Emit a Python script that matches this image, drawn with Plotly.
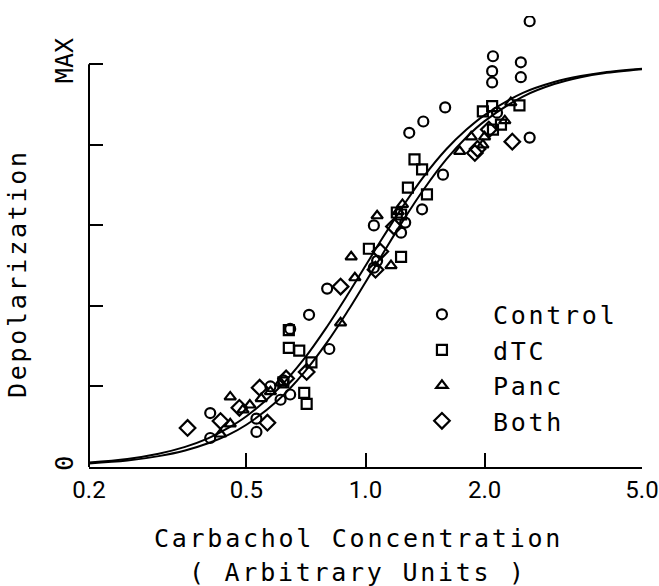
import plotly.graph_objects as go

# ---- data ----
control_x = [0.405, 0.405, 0.53, 0.53, 0.575, 0.61, 0.645, 0.62, 0.645, 0.72, 0.81, 0.80,
             1.05, 1.07, 1.05, 1.26, 1.23, 1.39, 1.29, 1.40, 1.59, 1.57, 2.10, 2.09, 2.09,
             2.47, 2.47, 2.60, 2.60, 2.15]
control_y = [0.072, 0.134, 0.12, 0.087, 0.20, 0.167, 0.18, 0.215, 0.343, 0.378, 0.293, 0.443,
             0.495, 0.512, 0.60, 0.607, 0.582, 0.64, 0.83, 0.858, 0.893, 0.726, 1.02, 0.983, 0.955,
             1.005, 0.968, 1.107, 0.818, 0.88]

dtc_x = [0.64, 0.64, 0.68, 0.73, 0.70, 0.71, 0.62, 1.02, 1.23, 1.23, 1.33, 1.39, 1.28,
         1.43, 1.20, 2.45, 1.98, 2.09, 2.20, 2.10]
dtc_y = [0.34, 0.296, 0.289, 0.26, 0.184, 0.157, 0.21, 0.542, 0.522, 0.627, 0.764, 0.739, 0.694,
         0.677, 0.632, 0.898, 0.883, 0.896, 0.85, 0.838]

panc_x = [0.43, 0.455, 0.455, 0.49, 0.51, 0.545, 0.61, 0.865, 0.92, 0.94, 1.16, 1.07, 1.24,
          1.21, 1.73, 1.85, 1.98, 2.33, 2.00, 2.25, 0.575]
panc_y = [0.082, 0.174, 0.107, 0.142, 0.154, 0.17, 0.209, 0.358, 0.522, 0.47, 0.50, 0.624, 0.652,
          0.634, 0.784, 0.82, 0.80, 0.905, 0.82, 0.86, 0.187]

both_x = [0.355, 0.43, 0.48, 0.54, 0.565, 0.71, 0.865, 1.09, 1.18, 1.06, 1.89, 2.35, 2.05, 1.92, 0.63]
both_y = [0.097, 0.114, 0.147, 0.197, 0.11, 0.236, 0.448, 0.535, 0.597, 0.49, 0.78, 0.808, 0.838, 0.79, 0.22]

curve_x = [0.2, 0.25, 0.3, 0.35, 0.4, 0.45, 0.5, 0.6, 0.7, 0.8, 0.9, 1.0, 1.1, 1.25, 1.4, 1.6,
           1.8, 2.0, 2.5, 3.0, 3.5, 4.0, 5.0]
curve_a = [0.011, 0.020, 0.033, 0.050, 0.071, 0.097, 0.126, 0.193, 0.269, 0.349, 0.427, 0.500,
           0.566, 0.651, 0.720, 0.789, 0.838, 0.874, 0.929, 0.956, 0.971, 0.980, 0.989]
curve_b = [0.009, 0.016, 0.027, 0.041, 0.059, 0.080, 0.105, 0.165, 0.235, 0.310, 0.386, 0.459,
           0.526, 0.615, 0.688, 0.764, 0.819, 0.859, 0.920, 0.951, 0.968, 0.978, 0.988]

x_ticks = [0.2, 0.5, 1.0, 2.0, 5.0]
x_ticktext = ["0.2", "0.5", "1.0", "2.0", "5.0"]
y_ticks = [0, 0.2, 0.4, 0.6, 0.8, 1.0]
y_ticktext = ["0", "", "", "", "", "MAX"]

series_names = ["Control", "dTC", "Panc", "Both"]

MONO = "DejaVu Sans Mono"
FS = 25
SPACER = '<span style="font-size:4.5px"> </span>'


def spaced(s):
    return SPACER.join(list(s))


fig = go.Figure()
for cy in (curve_a, curve_b):
    fig.add_trace(go.Scatter(x=curve_x, y=cy, mode="lines", line=dict(color="black", width=2,
                             shape="spline"), showlegend=False, hoverinfo="skip"))

specs = [
    (control_x, control_y, "circle-open", 10),
    (dtc_x, dtc_y, "square-open", 10),
    (panc_x, panc_y, "triangle-up-open", 10),
    (both_x, both_y, "diamond-open", 12),
]
for (xs, ys, sym, sz), name in zip(specs, series_names):
    fig.add_trace(go.Scatter(
        x=xs, y=ys, mode="markers", name=spaced(name),
        legendgroup=name,
        marker=dict(symbol=sym, size=sz, color="black", line=dict(color="black", width=2.2)),
    ))

fig.update_layout(
    width=659, height=586,
    margin=dict(l=89, r=17, t=16, b=119),
    paper_bgcolor="white", plot_bgcolor="white",
    showlegend=True,
    legend=dict(x=0.546, y=0.389, xanchor="left", yanchor="top",
                font=dict(family=MONO, size=FS, color="black"),
                itemwidth=92, traceorder="grouped", tracegroupgap=0,
                bgcolor="rgba(0,0,0,0)", borderwidth=0),
    xaxis=dict(type="log", range=[-0.69897, 0.69897], tickvals=x_ticks, ticktext=x_ticktext,
               ticks="inside", ticklen=14, tickwidth=2, tickcolor="black",
               showline=True, linewidth=2, linecolor="black",
               showgrid=False, zeroline=False, automargin=False,
               ticklabeloverflow="allow",
               tickfont=dict(family="Roboto", size=24, color="black")),
    yaxis=dict(range=[0, 1.12], tickvals=y_ticks, ticktext=y_ticktext,
               ticks="inside", ticklen=14, tickwidth=2, tickcolor="black",
               showline=False, showgrid=False, zeroline=False, tickangle=-90,
               automargin=False, ticklabelstandoff=10,
               tickfont=dict(family=MONO, size=FS, color="black")),
    shapes=[dict(type="line", xref="x domain", yref="y", x0=0, x1=0, y0=0, y1=1,
                 line=dict(color="black", width=2))],
    annotations=[
        dict(text=spaced("Carbachol Concentration"), xref="paper", yref="paper",
             x=0.4846, y=-0.1596, xanchor="center", yanchor="middle", showarrow=False,
             font=dict(family=MONO, size=FS, color="black")),
        dict(text=spaced("( Arbitrary Units )"), xref="paper", yref="paper",
             x=0.4846, y=-0.2350, xanchor="center", yanchor="middle", showarrow=False,
             font=dict(family=MONO, size=FS, color="black")),
        dict(text=spaced("Depolarization"), xref="paper", yref="paper",
             x=-0.130, y=0.4257, xanchor="center", yanchor="middle", showarrow=False,
             textangle=-90, font=dict(family=MONO, size=FS, color="black")),
    ],
)

fig.write_html("out.html")
